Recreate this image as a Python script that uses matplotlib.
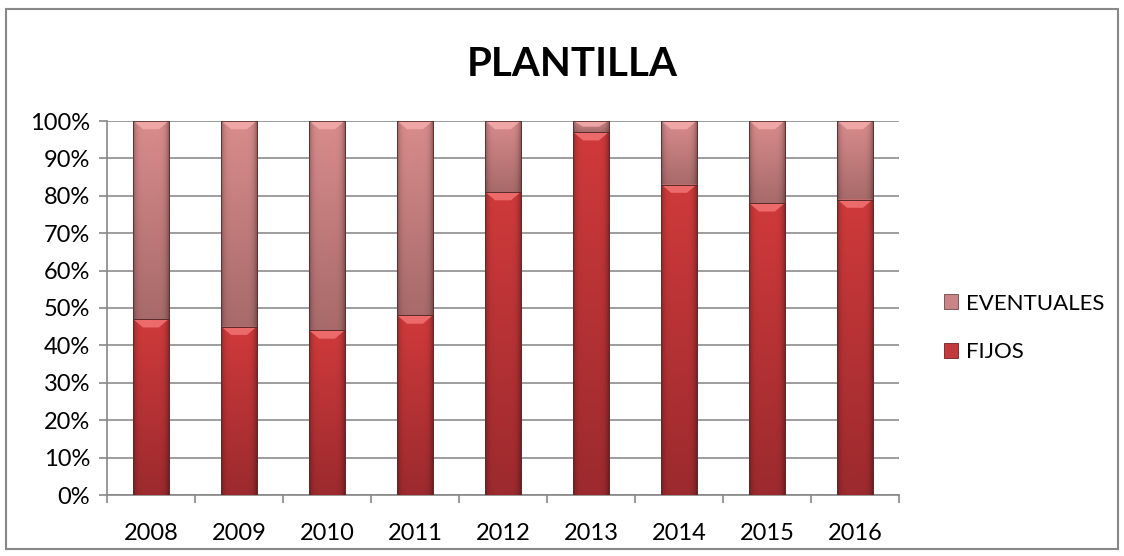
import matplotlib
matplotlib.use("Agg")
import matplotlib.pyplot as plt
from matplotlib.patches import Rectangle, Polygon
from matplotlib.colors import to_rgb
import numpy as np

years = ["2008", "2009", "2010", "2011", "2012", "2013", "2014", "2015", "2016"]
fijos = [47, 45, 44, 48, 81, 97, 83, 78, 79]
eventuales = [53, 55, 56, 52, 19, 3, 17, 22, 21]

plt.rcParams['font.family'] = ['Lato', 'DejaVu Sans']

fig = plt.figure(figsize=(11.24, 5.56), dpi=100)
ax = fig.add_axes([107/1124, 1-495/556, (899-107)/1124, (495-121)/556])

x = np.arange(len(years))
w = 0.4
c_fij = "#C23A3C"
c_eve = "#C98585"
bars_f = ax.bar(x, fijos, width=w, color=c_fij, edgecolor="#6E2020", linewidth=0.6, label="FIJOS", zorder=3)
bars_e = ax.bar(x, eventuales, width=w, bottom=fijos, color=c_eve, edgecolor="#6E4848", linewidth=0.6,
                label="EVENTUALES", zorder=3)

ax.set_xlim(-0.5, len(years) - 0.5)
ax.set_ylim(0, 100)


def shade(bars, top_c, bot_c, bevel_c):
    t = np.array(to_rgb(top_c)); b = np.array(to_rgb(bot_c))
    for p in bars:
        x0, y0 = p.get_x(), p.get_y()
        bw, bh = p.get_width(), p.get_height()
        if bh <= 0:
            continue
        ny, nx = 64, 32
        fy = np.linspace(0, 1, ny)[:, None, None]  # 0 bottom, 1 top
        col = b + (t - b) * fy
        fx = np.linspace(-1, 1, nx)[None, :, None]
        edge = 1 - 0.28 * np.abs(fx) ** 6
        img = np.clip(col * edge, 0, 1)
        ax.imshow(img, extent=(x0, x0 + bw, y0, y0 + bh), origin='lower', aspect='auto',
                  zorder=3.5, interpolation='bilinear')
        h = min(2.2, bh * 0.5)
        d = 0.11
        poly = Polygon([(x0, y0 + bh), (x0 + bw, y0 + bh), (x0 + bw - d, y0 + bh - h), (x0 + d, y0 + bh - h)],
                       closed=True, facecolor=bevel_c, edgecolor='none', zorder=3.6, alpha=0.9)
        ax.add_patch(poly)
        ax.add_patch(Rectangle((x0, y0), bw, bh, fill=False, edgecolor="#5a2a2a", linewidth=0.6, zorder=3.7))


shade(bars_f, "#CF3A3B", "#9C2A2E", "#F07070")
shade(bars_e, "#D98C8C", "#A86A6A", "#F2AAAA")
ax.set_xlim(-0.5, len(years) - 0.5)
ax.set_ylim(0, 100)

ax.set_yticks(np.arange(0, 101, 10))
ax.set_yticklabels([f"{v}%" for v in range(0, 101, 10)], fontsize=17)
ax.set_xticks(x)
ax.set_xticklabels(years, fontsize=17)
ax.set_xticks(np.arange(-0.5, len(years), 1), minor=True)
ax.tick_params(axis='x', which='major', length=0, pad=20)
ax.tick_params(axis='x', which='minor', length=6, color="#888888", width=1.2)
ax.tick_params(axis='y', length=6, color="#888888", width=1.2, pad=6)
ax.grid(axis='y', color="#8c8c8c", linewidth=1.2, zorder=0)
for s in ['top', 'right']:
    ax.spines[s].set_visible(False)
for s in ['left', 'bottom']:
    ax.spines[s].set_color("#888888")
    ax.spines[s].set_linewidth(1.2)

fig.text(572/1124, 1-64/556, "PLANTILLA", ha='center', va='center', fontsize=29, fontweight='bold')

handles, labels = ax.get_legend_handles_labels()
leg = fig.legend(handles[::-1], labels[::-1], loc='center left', bbox_to_anchor=(924/1124, 1-328/556),
                 frameon=False, fontsize=16, handlelength=0.65, handleheight=0.65, labelspacing=1.3,
                 handletextpad=0.35)

fig.patches.append(Rectangle((6/1124, 1-549/556), 1112/1124, 540/556, transform=fig.transFigure,
                             fill=False, edgecolor="#888888", linewidth=1.5))

fig.savefig("out.png", dpi=100)
